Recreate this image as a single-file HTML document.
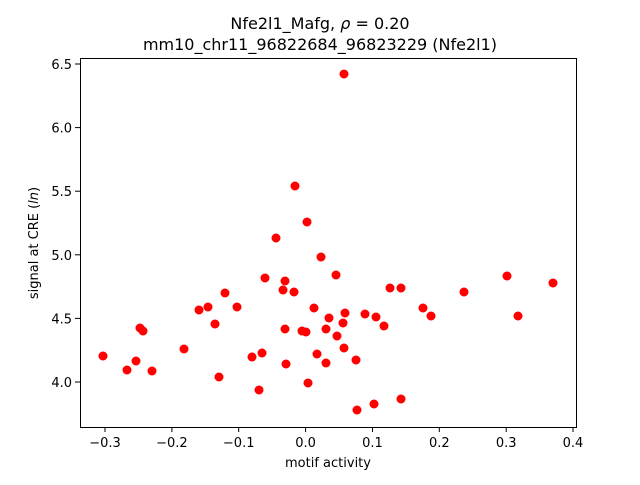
<!DOCTYPE html>
<html><head><meta charset="utf-8"><style>body{margin:0;background:#fff}</style></head><body>
<svg width="640" height="480" xmlns="http://www.w3.org/2000/svg" font-family="DejaVu Sans, Liberation Sans, sans-serif">
<rect width="640" height="480" fill="#fff"/>
<text x="320" y="29" font-size="16" text-anchor="middle">Nfe2l1_Mafg, <tspan font-style="italic">ρ</tspan> = 0.20</text>
<text x="320" y="50" font-size="16" text-anchor="middle">mm10_chr11_96822684_96823229 (Nfe2l1)</text>
<g fill="red">
<circle cx="344" cy="74" r="4.5"/><circle cx="295" cy="186" r="4.5"/><circle cx="307" cy="222" r="4.5"/><circle cx="276" cy="238" r="4.5"/><circle cx="321" cy="257" r="4.5"/><circle cx="336" cy="275" r="4.5"/><circle cx="265" cy="278" r="4.5"/><circle cx="285" cy="281" r="4.5"/><circle cx="283" cy="290" r="4.5"/><circle cx="294" cy="292" r="4.5"/><circle cx="225" cy="293" r="4.5"/><circle cx="507" cy="276" r="4.5"/><circle cx="553" cy="283" r="4.5"/><circle cx="464" cy="292" r="4.5"/><circle cx="390" cy="288" r="4.5"/><circle cx="401" cy="288" r="4.5"/><circle cx="423" cy="308" r="4.5"/><circle cx="431" cy="316" r="4.5"/><circle cx="199" cy="310" r="4.5"/><circle cx="208" cy="307" r="4.5"/><circle cx="237" cy="307" r="4.5"/><circle cx="314" cy="308" r="4.5"/><circle cx="345" cy="313" r="4.5"/><circle cx="343" cy="323" r="4.5"/><circle cx="329" cy="318" r="4.5"/><circle cx="365" cy="314" r="4.5"/><circle cx="376" cy="317" r="4.5"/><circle cx="384" cy="326" r="4.5"/><circle cx="518" cy="316" r="4.5"/><circle cx="140" cy="328" r="4.5"/><circle cx="143" cy="331" r="4.5"/><circle cx="215" cy="324" r="4.5"/><circle cx="285" cy="329" r="4.5"/><circle cx="302" cy="331" r="4.5"/><circle cx="306" cy="332" r="4.5"/><circle cx="326" cy="329" r="4.5"/><circle cx="337" cy="336" r="4.5"/><circle cx="184" cy="349" r="4.5"/><circle cx="344" cy="348" r="4.5"/><circle cx="103" cy="356" r="4.5"/><circle cx="136" cy="361" r="4.5"/><circle cx="262" cy="353" r="4.5"/><circle cx="252" cy="357" r="4.5"/><circle cx="317" cy="354" r="4.5"/><circle cx="356" cy="360" r="4.5"/><circle cx="127" cy="370" r="4.5"/><circle cx="152" cy="371" r="4.5"/><circle cx="286" cy="364" r="4.5"/><circle cx="326" cy="363" r="4.5"/><circle cx="219" cy="377" r="4.5"/><circle cx="259" cy="390" r="4.5"/><circle cx="308" cy="383" r="4.5"/><circle cx="357" cy="410" r="4.5"/><circle cx="374" cy="404" r="4.5"/><circle cx="401" cy="399" r="4.5"/>
</g>
<rect x="80.5" y="58.5" width="496" height="369" fill="none" stroke="#000" stroke-width="1"/>
<g stroke="#000" stroke-width="1">
<line x1="105" y1="427" x2="105" y2="432"/><line x1="171.9" y1="427" x2="171.9" y2="432"/><line x1="238.7" y1="427" x2="238.7" y2="432"/><line x1="305.6" y1="427" x2="305.6" y2="432"/><line x1="372.5" y1="427" x2="372.5" y2="432"/><line x1="439.3" y1="427" x2="439.3" y2="432"/><line x1="506.2" y1="427" x2="506.2" y2="432"/><line x1="573" y1="427" x2="573" y2="432"/>
<line x1="75" y1="382" x2="80" y2="382"/><line x1="75" y1="318.4" x2="80" y2="318.4"/><line x1="75" y1="254.8" x2="80" y2="254.8"/><line x1="75" y1="191.2" x2="80" y2="191.2"/><line x1="75" y1="127.6" x2="80" y2="127.6"/><line x1="75" y1="64" x2="80" y2="64"/>
</g>
<g font-size="13" text-anchor="middle">
<text x="105" y="447">−0.3</text><text x="171.9" y="447">−0.2</text><text x="238.7" y="447">−0.1</text><text x="305.6" y="447">0.0</text><text x="372.5" y="447">0.1</text><text x="439.3" y="447">0.2</text><text x="506.2" y="447">0.3</text><text x="573" y="447">0.4</text>
</g>
<g font-size="13" text-anchor="end">
<text x="72" y="387">4.0</text><text x="72" y="323.4">4.5</text><text x="72" y="259.8">5.0</text><text x="72" y="196.2">5.5</text><text x="72" y="132.6">6.0</text><text x="72" y="69">6.5</text>
</g>
<text x="328" y="467" font-size="13" text-anchor="middle">motif activity</text>
<text transform="translate(38,243) rotate(-90)" font-size="13" text-anchor="middle">signal at CRE (<tspan font-style="italic">ln</tspan>)</text>
</svg>
</body></html>
